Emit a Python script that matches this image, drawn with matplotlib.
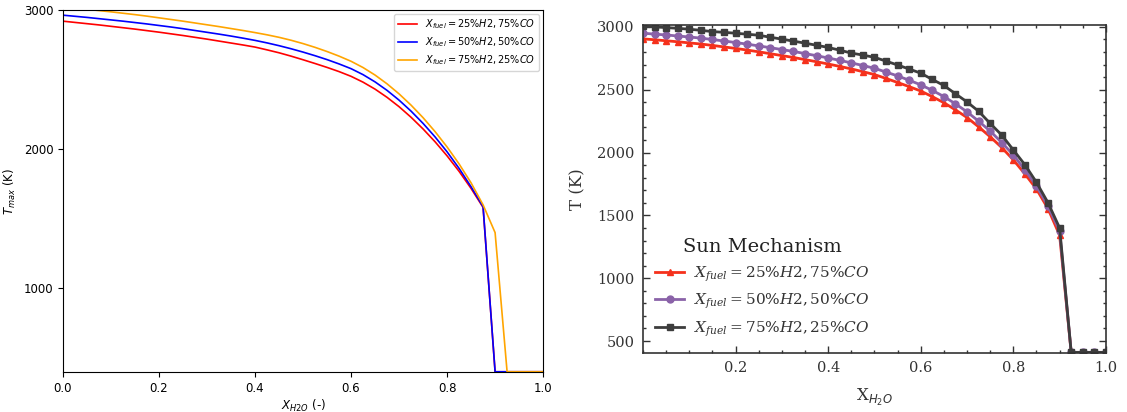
import numpy as np
import matplotlib
matplotlib.use("Agg")
import matplotlib.pyplot as plt
from matplotlib.ticker import MultipleLocator

# Water mole fraction grid (shared by both panels)
x_h2o = np.round(np.arange(0, 1.0001, 0.025), 3)

# Left panel: maximum flame temperature (K)
tmax_25h2 = [2919, 2910, 2901, 2892, 2882, 2872, 2862, 2851, 2840, 2828,
             2816, 2803, 2790, 2776, 2762, 2748, 2733, 2713, 2692, 2668,
             2642, 2615, 2587, 2557, 2523, 2481, 2431, 2372, 2305, 2229,
             2145, 2053, 1952, 1841, 1718, 1582, 402, 402, 402, 402, 402]
tmax_50h2 = [2962, 2954, 2946, 2937, 2928, 2919, 2909, 2899, 2888, 2877,
             2865, 2852, 2839, 2826, 2812, 2797, 2781, 2763, 2743, 2721,
             2697, 2671, 2643, 2612, 2578, 2535, 2483, 2422, 2352, 2273,
             2185, 2088, 1981, 1862, 1730, 1587, 402, 402, 402, 402, 402]
tmax_75h2 = [3020, 3012, 3004, 2995, 2986, 2976, 2966, 2955, 2943, 2931,
             2919, 2906, 2893, 2880, 2866, 2852, 2837, 2821, 2803, 2782,
             2758, 2731, 2701, 2668, 2631, 2586, 2532, 2469, 2397, 2316,
             2226, 2126, 2016, 1894, 1758, 1600, 1401, 402, 402, 402, 402]

# Right panel: temperature with the Sun mechanism (K)
sun_25h2 = [2905, 2898, 2890, 2882, 2873, 2864, 2853, 2841, 2829, 2816,
            2802, 2787, 2772, 2757, 2740, 2723, 2705, 2686, 2666, 2644,
            2621, 2590, 2558, 2525, 2490, 2445, 2397, 2340, 2279, 2205,
            2126, 2040, 1942, 1830, 1710, 1553, 1342, 410, 410, 410, 410]
sun_50h2 = [2950, 2943, 2936, 2928, 2920, 2911, 2900, 2888, 2876, 2863,
            2849, 2835, 2820, 2805, 2788, 2771, 2753, 2734, 2714, 2693,
            2671, 2641, 2610, 2576, 2539, 2495, 2446, 2388, 2324, 2250,
            2171, 2080, 1982, 1862, 1735, 1573, 1376, 410, 410, 410, 410]
sun_75h2 = [3005, 3000, 2995, 2989, 2982, 2973, 2963, 2957, 2950, 2942,
            2934, 2918, 2903, 2887, 2871, 2854, 2837, 2815, 2792, 2776,
            2758, 2728, 2697, 2665, 2632, 2582, 2534, 2468, 2403, 2329,
            2232, 2139, 2021, 1903, 1763, 1600, 1400, 410, 410, 410, 410]

labels = [r"$X_{fuel} = 25\%H2, 75\%CO$",
          r"$X_{fuel} = 50\%H2, 50\%CO$",
          r"$X_{fuel} = 75\%H2, 25\%CO$"]

fig = plt.figure(figsize=(11.27, 4.12), dpi=100)

# ---------------- left panel ----------------
ax1 = fig.add_axes([0.0559, 0.097, 0.426, 0.879])
for y, c, lab in zip([tmax_25h2, tmax_50h2, tmax_75h2],
                     ["red", "blue", "orange"], labels):
    ax1.plot(x_h2o, y, color=c, lw=1.2, label=lab)
ax1.set_xlim(0, 1.0)
ax1.set_ylim(400, 3000)
ax1.set_yticks([1000, 2000, 3000])
ax1.set_xticks([0.0, 0.2, 0.4, 0.6, 0.8, 1.0])
ax1.tick_params(labelsize=8.5, length=3.5)
ax1.set_xlabel(r"$X_{H2O}$ (-)", fontsize=8.5, labelpad=2)
ax1.set_ylabel(r"$T_{max}$ (K)", fontsize=8.5, labelpad=4)
ax1.legend(loc="upper right", fontsize=7, handlelength=2.0,
           borderaxespad=0.4, labelspacing=0.4)

# ---------------- right panel ----------------
serif = "DejaVu Serif"
ax2 = fig.add_axes([0.5705, 0.1432, 0.4108, 0.796])
styles = [("#f5311c", "^"), ("#8a62a8", "o"), ("#3d3d3d", "s")]
for y, (c, m), lab in zip([sun_25h2, sun_50h2, sun_75h2], styles, labels):
    ax2.plot(x_h2o, y, color=c, marker=m, ms=5, lw=2.0, label=lab)
ax2.set_xlim(0, 1.0)
ax2.set_ylim(405, 3015)
ax2.set_xticks([0.2, 0.4, 0.6, 0.8, 1.0])
ax2.set_yticks([500, 1000, 1500, 2000, 2500, 3000])
ax2.xaxis.set_minor_locator(MultipleLocator(0.05))
ax2.yaxis.set_minor_locator(MultipleLocator(100))
ax2.tick_params(which="both", direction="in", top=True, right=True,
                colors="#333333", width=1.0)
ax2.tick_params(which="major", length=5, labelsize=10.5, pad=6)
ax2.tick_params(which="minor", length=2.5)
for lbl in ax2.get_xticklabels() + ax2.get_yticklabels():
    lbl.set_family(serif)
    lbl.set_color("#333333")
for s in ax2.spines.values():
    s.set_color("#333333")
    s.set_linewidth(1.2)
plt.rcParams["mathtext.fontset"] = "dejavuserif"
ax2.set_xlabel(r"X$_{H_2O}$", fontsize=12, family=serif, color="#333333",
               labelpad=8)
ax2.set_ylabel("T (K)", fontsize=12, family=serif, color="#333333",
               labelpad=8)
leg = ax2.legend(loc="lower left", bbox_to_anchor=(0.007, 0.015), frameon=False,
                 title="Sun Mechanism", prop={"family": serif, "size": 11},
                 handlelength=1.9, handletextpad=0.6, labelspacing=0.55,
                 borderaxespad=0.2)
leg.get_title().set_fontsize(14)
leg.get_title().set_family(serif)
leg.get_title().set_color("#222222")
for t in leg.get_texts():
    t.set_color("#333333")

fig.savefig("out.png", dpi=100)
